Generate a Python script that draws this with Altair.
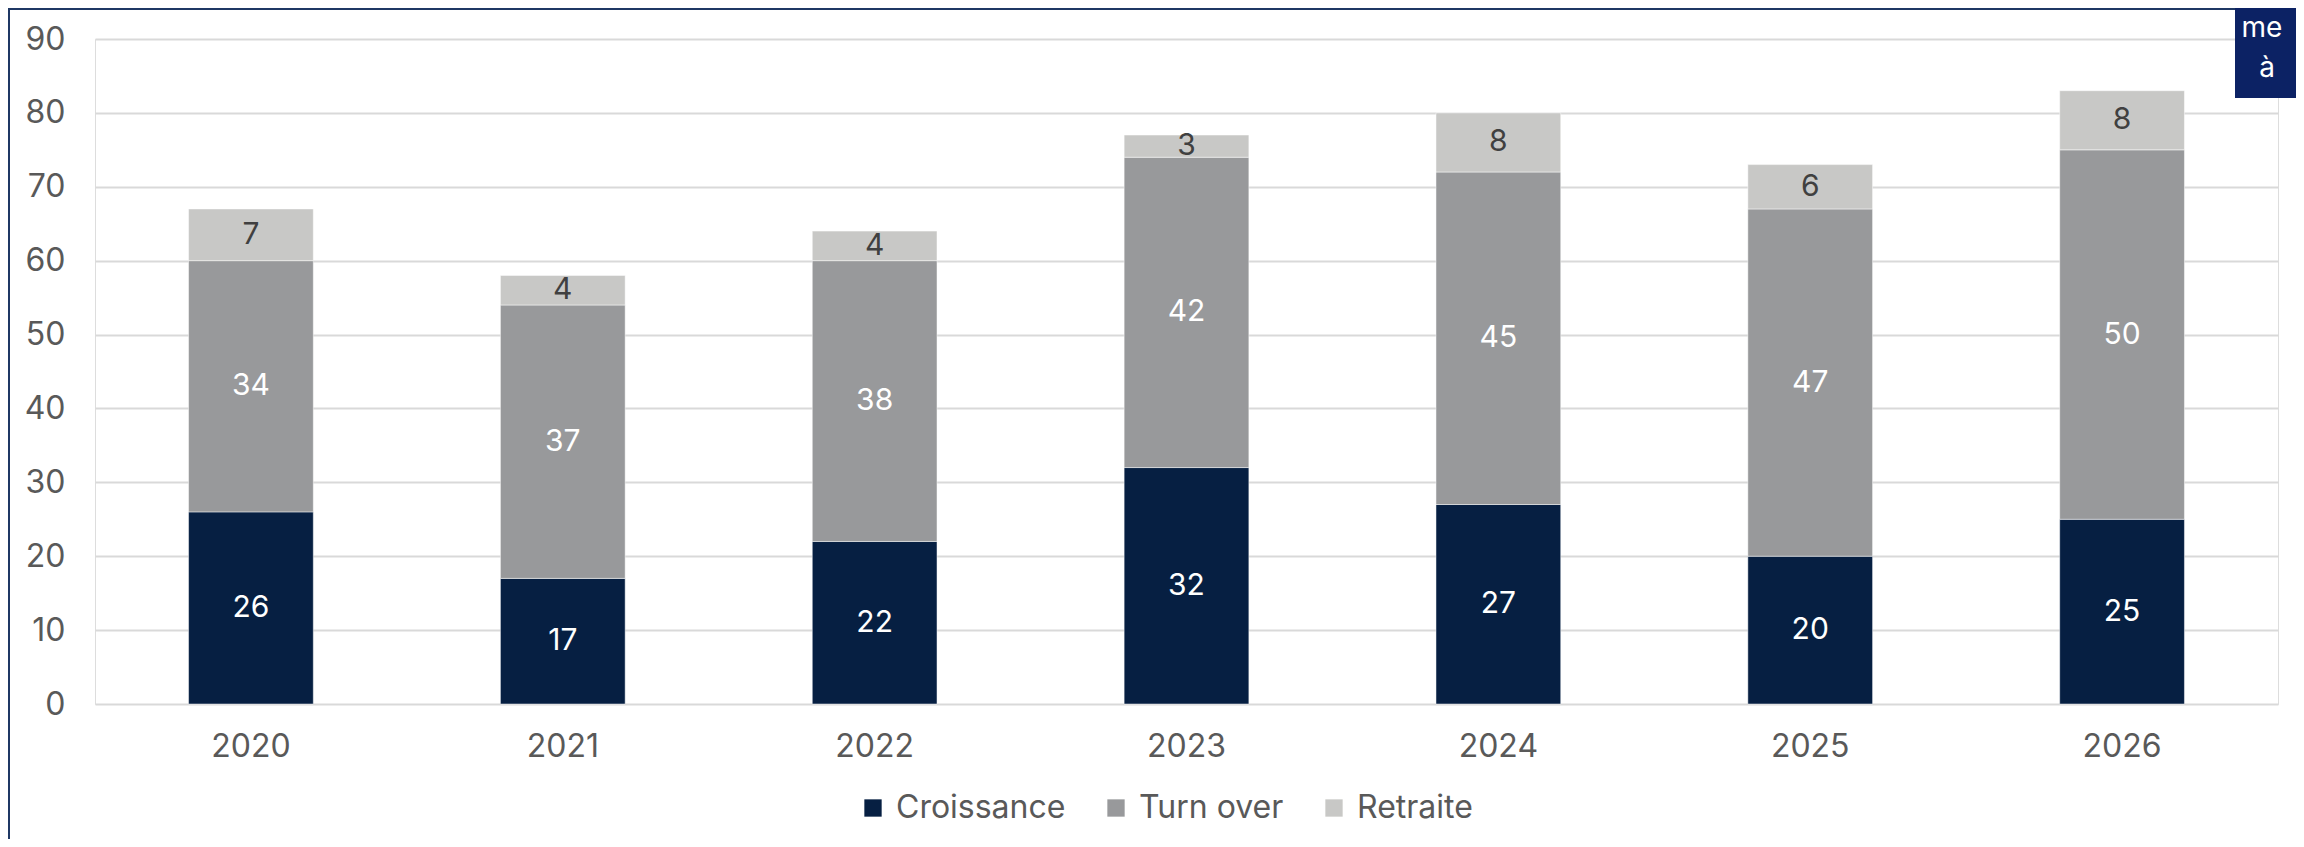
import altair as alt
import pandas as pd

years = ["2020", "2021", "2022", "2023", "2024", "2025", "2026"]
series = ["Croissance", "Turn over", "Retraite"]
croissance = [26, 17, 22, 32, 27, 20, 25]
turn_over = [34, 37, 38, 42, 45, 47, 50]
retraite = [7, 4, 4, 3, 8, 6, 8]
colors = ["#061f42", "#98999b", "#c8c8c6"]
y_ticks = [0, 10, 20, 30, 40, 50, 60, 70, 80, 90]

rows = []
for i, y in enumerate(years):
    for k, (s, vals) in enumerate(zip(series, [croissance, turn_over, retraite])):
        rows.append({"year": y, "series": s, "idx": k, "value": vals[i]})
df = pd.DataFrame(rows)

W, H = 2183, 665
PL, PT = 87, 31

base = alt.Chart(df).transform_stack(
    stack="value", groupby=["year"], as_=["y0", "y1"], sort=[alt.SortField("idx", "ascending")]
).transform_calculate(mid="(datum.y0 + datum.y1) / 2")

x_enc = alt.X("year:N", sort=years, title=None,
              scale=alt.Scale(paddingInner=0.6, paddingOuter=0.3),
              axis=alt.Axis(labelAngle=0, ticks=False, domain=False, labelFont="Inter",
                            labelFontSize=32, labelColor="#595959", labelPadding=27))

bars = base.mark_bar(stroke="#ffffff", strokeWidth=0.8, strokeOpacity=0.6).encode(
    x=x_enc,
    y=alt.Y("y0:Q", title=None,
            scale=alt.Scale(domain=[0, 90], nice=False),
            axis=alt.Axis(values=y_ticks, ticks=False, domain=False, labelFont="Inter",
                          labelFontSize=32, labelColor="#595959", labelPadding=30,
                          grid=True, gridColor="#d9d9d9", gridWidth=2)),
    y2="y1:Q",
    color=alt.Color("series:N", scale=alt.Scale(domain=series, range=colors),
                    legend=alt.Legend(title=None, orient="none", legendX=762, legendY=753,
                                      direction="horizontal", symbolType="square",
                                      symbolSize=300, symbolStrokeWidth=0, labelOffset=7,
                                      columnPadding=34, padding=0, labelLimit=400,
                                      labelFont="Inter", labelFontSize=32,
                                      labelColor="#595959")),
)

labels = base.mark_text(font="Inter", fontSize=30, baseline="middle", align="center").encode(
    x=alt.X("year:N", sort=years),
    y=alt.Y("mid:Q"),
    text=alt.Text("value:Q"),
    color=alt.condition(alt.datum.series == "Retraite", alt.value("#404040"), alt.value("#ffffff")),
)

deco = alt.Chart(alt.Data(values=[{"a": 1}]))
border_top = deco.mark_rule(color="#1f3864", strokeWidth=2).encode(
    x=alt.value(-PL), x2=alt.value(W + 20), y=alt.value(-PT + 1))
border_left = deco.mark_rule(color="#1f3864", strokeWidth=2).encode(
    x=alt.value(-PL + 1), y=alt.value(-PT), y2=alt.value(H + 140))
box = deco.mark_rect(color="#0c2264").encode(
    x=alt.value(2140), x2=alt.value(W + 20), y=alt.value(-PT), y2=alt.value(59))
box_t1 = deco.mark_text(color="#ffffff", font="Inter", fontSize=28, align="center", baseline="middle").encode(
    x=alt.value(2167), y=alt.value(-10), text=alt.value("me"))
box_t2 = deco.mark_text(color="#ffffff", font="Inter", fontSize=28, align="center", baseline="middle").encode(
    x=alt.value(2172), y=alt.value(30), text=alt.value("à"))

chart = alt.layer(bars, labels, border_top, border_left, box, box_t1, box_t2).properties(
    width=W, height=H,
    autosize=alt.AutoSizeParams(type="none"),
    padding={"left": PL, "top": PT, "right": 18, "bottom": 135},
).configure_view(stroke=None).configure(background="#ffffff")

chart.save("out.html", embed_options={"renderer": "svg", "actions": False})
